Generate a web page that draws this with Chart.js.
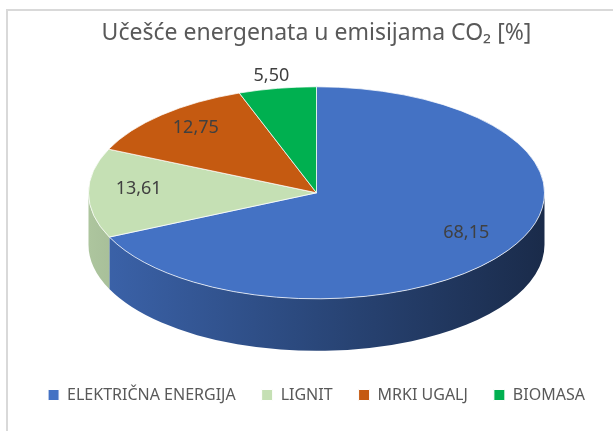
<!DOCTYPE html>
<html lang="sr">
  <head>
    <meta charset="UTF-8" />
    <title>Učešće energenata u emisijama CO₂</title>
    <script src="https://cdn.jsdelivr.net/npm/chart.js@4.4.1/dist/chart.umd.min.js"></script>
    <style>
      body {
        margin: 0;
        background: #ffffff;
      }
      .wrap {
        position: relative;
        width: 613px;
        height: 431px;
      }
      .frame {
        position: absolute;
        left: 6px;
        top: 9px;
        right: -2px;
        bottom: -2px;
        border-left: 2px solid #d9d9d9;
        border-top: 2px solid #d9d9d9;
        pointer-events: none;
      }
    </style>
  </head>
  <body>
    <div class="wrap">
      <canvas id="chart" width="613" height="431"></canvas>
      <div class="frame"></div>
    </div>

    <script>
      // Chart data
      const labels = ["ELEKTRIČNA ENERGIJA", "LIGNIT", "MRKI UGALJ", "BIOMASA"];
      const shares = [68.15, 13.61, 12.75, 5.5];
      const colors = ["#4472C4", "#C5E0B4", "#C55A11", "#00B050"];

      function shade(hex, f) {
        const n = parseInt(hex.slice(1), 16);
        const r = Math.round(((n >> 16) & 255) * f);
        const g = Math.round(((n >> 8) & 255) * f);
        const b = Math.round((n & 255) * f);
        return "rgb(" + r + "," + g + "," + b + ")";
      }

      // squashes the pie into an ellipse and adds a side wall
      const pie3d = {
        id: "pie3d",
        beforeDatasetsDraw(chart, args, opts) {
          const ctx = chart.ctx;
          const meta = chart.getDatasetMeta(0);
          const a = chart.chartArea;
          const cx = (a.left + a.right) / 2;
          const cy = (a.top + a.bottom) / 2;
          const cyS = cy + opts.shiftY;
          const r = meta.data[0].outerRadius;
          const ry = r * opts.tilt;

          ctx.save();
          meta.data.forEach((arc, i) => {
            const grad = ctx.createLinearGradient(cx - r, 0, cx + r, 0);
            grad.addColorStop(0, shade(colors[i], 0.88));
            grad.addColorStop(0.5, shade(colors[i], 0.62));
            grad.addColorStop(1, shade(colors[i], 0.38));
            [0, 2 * Math.PI].forEach((k) => {
              const lo = Math.max(arc.startAngle, k);
              const hi = Math.min(arc.endAngle, k + Math.PI);
              if (hi <= lo) return;
              ctx.beginPath();
              ctx.ellipse(cx, cyS, r, ry, 0, lo, hi);
              ctx.ellipse(cx, cyS + opts.depth, r, ry, 0, hi, lo, true);
              ctx.closePath();
              ctx.fillStyle = grad;
              ctx.fill();
            });
          });
          ctx.restore();

          ctx.save();
          ctx.translate(cx, cyS);
          ctx.scale(1, opts.tilt);
          ctx.translate(-cx, -cy);
        },
        afterDatasetsDraw(chart, args, opts) {
          const ctx = chart.ctx;
          ctx.restore();

          const meta = chart.getDatasetMeta(0);
          const a = chart.chartArea;
          const cx = (a.left + a.right) / 2;
          const cyS = (a.top + a.bottom) / 2 + opts.shiftY;
          const apexY = cyS + opts.apexShift;
          const total = shares.reduce((s, v) => s + v, 0);

          ctx.save();
          ctx.font = "18px 'Noto Sans'";
          ctx.fillStyle = "#404040";
          ctx.textAlign = "center";
          ctx.textBaseline = "middle";
          meta.data.forEach((arc, i) => {
            const mid = (arc.startAngle + arc.endAngle) / 2;
            const f = shares[i] / total < 0.08 ? 1.15 : 0.78;
            const edgeY = cyS + Math.sin(mid) * arc.outerRadius * opts.tilt;
            const x = cx + Math.cos(mid) * arc.outerRadius * f;
            const y = apexY + (edgeY - apexY) * f;
            ctx.fillText(shares[i].toFixed(2).replace(".", ","), x, y);
          });
          ctx.restore();
        },
      };

      new Chart(document.getElementById("chart"), {
        type: "pie",
        data: {
          labels: labels,
          datasets: [
            {
              data: shares,
              backgroundColor: colors,
              borderColor: "#ffffff",
              borderWidth: 1,
            },
          ],
        },
        plugins: [pie3d],
        options: {
          responsive: false,
          animation: false,
          radius: 228,
          layout: {
            padding: { left: 20, right: 0, top: 0, bottom: 18 },
          },
          plugins: {
            pie3d: { tilt: 0.465, depth: 52, shiftY: -16.5, apexShift: -19 },
            tooltip: { enabled: false },
            title: {
              display: true,
              text: "Učešće energenata u emisijama CO₂ [%]",
              color: "#595959",
              font: { family: "'Noto Sans'", size: 23, weight: "normal" },
              padding: { top: 20, bottom: 10 },
            },
            legend: {
              position: "bottom",
              labels: {
                color: "#595959",
                font: { family: "'Noto Sans'", size: 16 },
                boxWidth: 11,
                boxHeight: 11,
                padding: 26,
              },
            },
          },
        },
      });
    </script>
  </body>
</html>
